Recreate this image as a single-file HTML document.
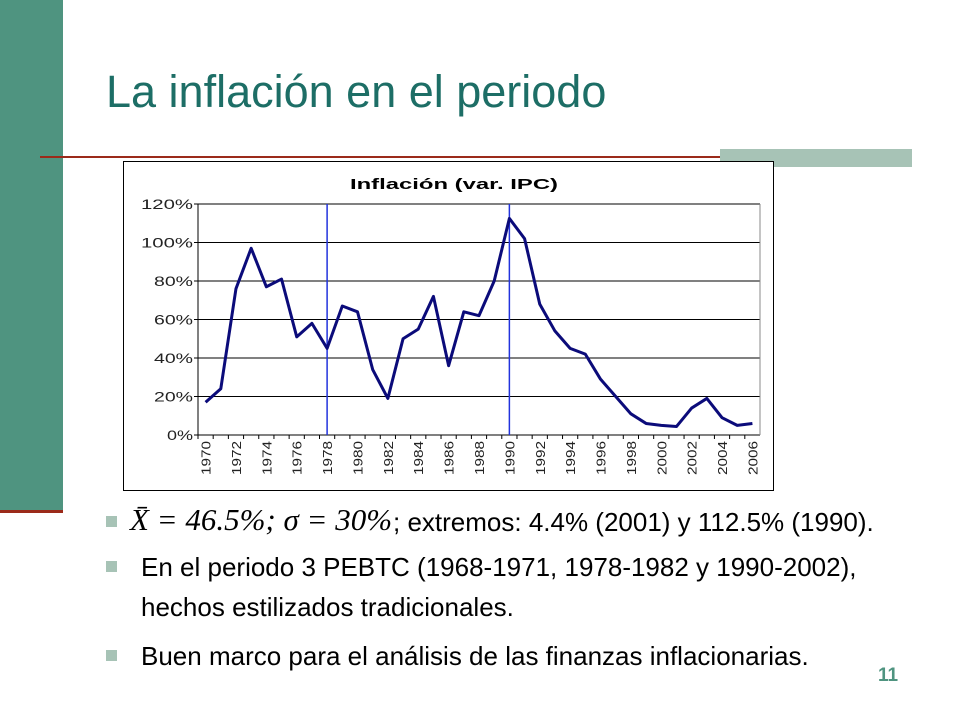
<!DOCTYPE html>
<html><head><meta charset="utf-8"><style>
body{margin:0;width:960px;height:720px;background:#fff;position:relative;overflow:hidden;font-family:"Liberation Sans",sans-serif}
.abs{position:absolute}
.b{position:absolute;width:11px;height:11px;background:#a7c3b6}
.t{position:absolute;font-size:26px;color:#000;line-height:40px;white-space:nowrap}
</style></head><body>
<div class="abs" style="left:0;top:0;width:63px;height:511px;background:#4f9480"></div>
<div class="abs" style="left:0;top:510px;width:63px;height:3px;background:#9b2a1a"></div>
<div class="abs" style="left:106px;top:66px;font-size:45px;color:#1d6e66;white-space:nowrap">La inflación en el periodo</div>
<div class="abs" style="left:40px;top:156px;width:872px;height:2px;background:#9b2a1a"></div>
<div class="abs" style="left:720px;top:149px;width:192px;height:18px;background:#a7c3b6"></div>
<div class="abs" style="left:123px;top:161px;width:649px;height:328px;border:1px solid #000;background:#fff"></div>
<svg class="abs" style="left:0;top:0" width="960" height="720">
<text x="350" y="189" textLength="208" lengthAdjust="spacingAndGlyphs" font-size="15" font-weight="bold" font-family="Liberation Sans">Inflación (var. IPC)</text>
<g id="g"></g>
</svg>
<div class="b" style="left:106px;top:516px"></div>
<div class="t" style="left:130px;top:500px;font-family:'Liberation Serif',serif;font-style:italic;font-size:31px">X̄ = 46.5%; σ = 30%</div>
<div class="t" style="left:393px;top:502px">; extremos: 4.4% (2001) y 112.5% (1990).</div>
<div class="b" style="left:106px;top:561px"></div>
<div class="t" style="left:141px;top:547px">En el periodo 3 PEBTC (1968-1971, 1978-1982 y 1990-2002),<br>hechos estilizados tradicionales.</div>
<div class="b" style="left:106px;top:650px"></div>
<div class="t" style="left:141px;top:636px">Buen marco para el análisis de las finanzas inflacionarias.</div>
<div class="abs" style="left:878px;top:665px;font-size:19px;font-weight:bold;color:#4f9480">11</div>
<script>
const years=[];for(let y=1970;y<=2006;y++)years.push(y);
const values=[17,24,76,97,77,81,51,58,45,67,64,34,19,50,55,72,36,64,62,80,112.5,102,68,54,45,42,29,20,11,6,5,4.4,14,19,9,5,6];
const yTicks=[0,20,40,60,80,100,120];
const markers=[1978,1990];
const L=198,R=760,T=204,B=435;
const bw=(R-L)/years.length;
const xs=i=>L+bw*(i+0.5);
const ys=v=>B-(v/120)*(B-T);
const ns="http://www.w3.org/2000/svg",g=document.getElementById('g');
function mk(t,a){const e=document.createElementNS(ns,t);for(const k in a)e.setAttribute(k,a[k]);g.appendChild(e);return e;}
yTicks.forEach(v=>{
 const l=mk('line',{x1:L-4,x2:R,y1:ys(v),y2:ys(v),stroke:'#000','stroke-width':1});
 
 
 const s=v+'%';
 const w=s.length*13;
 const t=mk('text',{x:L-5-w,y:ys(v)+5,textLength:w,lengthAdjust:'spacingAndGlyphs','font-size':14,'font-family':'Liberation Sans',fill:'#222'});
 t.textContent=s;
 
 
});
const ax=mk('line',{x1:L,x2:L,y1:T,y2:B,stroke:'#000'});


const rx=mk('line',{x1:R,x2:R,y1:T,y2:B,stroke:'#888'});


years.forEach((y,i)=>{
 const tk=mk('line',{x1:L+bw*i,x2:L+bw*i,y1:B,y2:B+4,stroke:'#000'});
 
 
 if(i%2==0){const cx=xs(i);
  const t=mk('text',{x:cx+5,y:B+40,textLength:34,lengthAdjust:'spacingAndGlyphs','font-size':13,'font-family':'Liberation Sans',fill:'#222',transform:`rotate(-90 ${cx+5} ${B+40})`});
  t.textContent=y;
  
  }
});
markers.forEach(m=>{const i=years.indexOf(m);
 const l=mk('line',{x1:xs(i),x2:xs(i),y1:T,y2:B,stroke:'#2233dd','stroke-width':1.5});
 
 });
const p=mk('polyline',{points:values.map((v,i)=>xs(i)+','+ys(v)).join(' '),fill:'none',stroke:'#0b0b7a','stroke-width':3,'stroke-linejoin':'round'});


</script>
</body></html>
